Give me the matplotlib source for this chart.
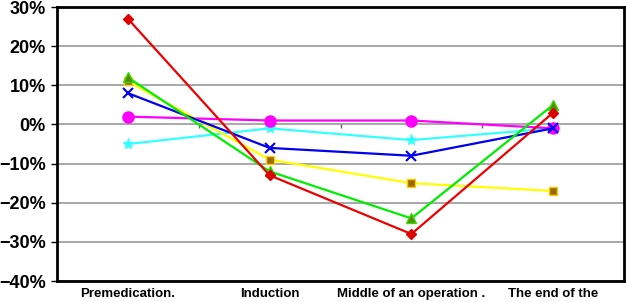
import numpy as np
import matplotlib.pyplot as plt
from matplotlib.ticker import PercentFormatter

categories = ['Premedication.', 'Induction', 'Middle of an operation .', 'The end of the']
red = [27, -13, -28, 3]
green = [12, -12, -24, 5]
yellow = [11, -9, -15, -17]
blue = [8, -6, -8, -1]
magenta = [2, 1, 1, -1]
cyan = [-5, -1, -4, -1]

plt.rcParams['font.family'] = ['Liberation Sans', 'DejaVu Sans']

fig = plt.figure(figsize=(6.26, 3.02), dpi=100)
ax = fig.add_axes([57/626, 21/302, 567/626, 274/302])

x = np.arange(len(categories)) + 0.5

ax.plot(x, cyan, color='#33ffff', lw=1.6, marker='*', ms=8, mfc='#33ffff', mec='#33ffff', zorder=3)
ax.plot(x, magenta, color='#ff00ff', lw=1.6, marker='o', ms=8, mfc='#ff00ff', mec='#ff00ff', zorder=3)
ax.plot(x, yellow, color='#ffff00', lw=1.6, marker='s', ms=6, mfc='#9a6a00', mec='#ffcc00', zorder=3)
ax.plot(x, blue, color='#0000ee', lw=1.6, marker='x', ms=7, mew=1.5, zorder=4)
ax.plot(x, green, color='#00ee00', lw=1.6, marker='^', ms=7, mfc='#5a8a00', mec='#33dd00', zorder=4)
ax.plot(x, red, color='#ee0000', lw=1.6, marker='D', ms=5, mfc='#dd0000', mec='#dd0000', zorder=5)

ax.set_xlim(0, 4)
ax.set_ylim(-40, 30)
ax.set_yticks(np.arange(-40, 31, 10))
ax.yaxis.set_major_formatter(PercentFormatter(decimals=0))
ax.grid(axis='y', color='#999999', lw=1.2)
ax.set_axisbelow(True)

ax.set_xticks(x)
ax.set_xticklabels(categories, fontsize=9.5, fontweight='bold')
ax.tick_params(axis='x', length=0, pad=5)
ax.tick_params(axis='y', labelsize=13, length=4, width=1, pad=4)
for lab in ax.get_yticklabels():
    lab.set_fontweight('bold')

# category boundary ticks on the zero line
ax.vlines([1, 2, 3], -0.8, 0, color='#666666', lw=1)

for s in ax.spines.values():
    s.set_linewidth(2)
    s.set_color('black')

fig.savefig('out.png', dpi=100)
